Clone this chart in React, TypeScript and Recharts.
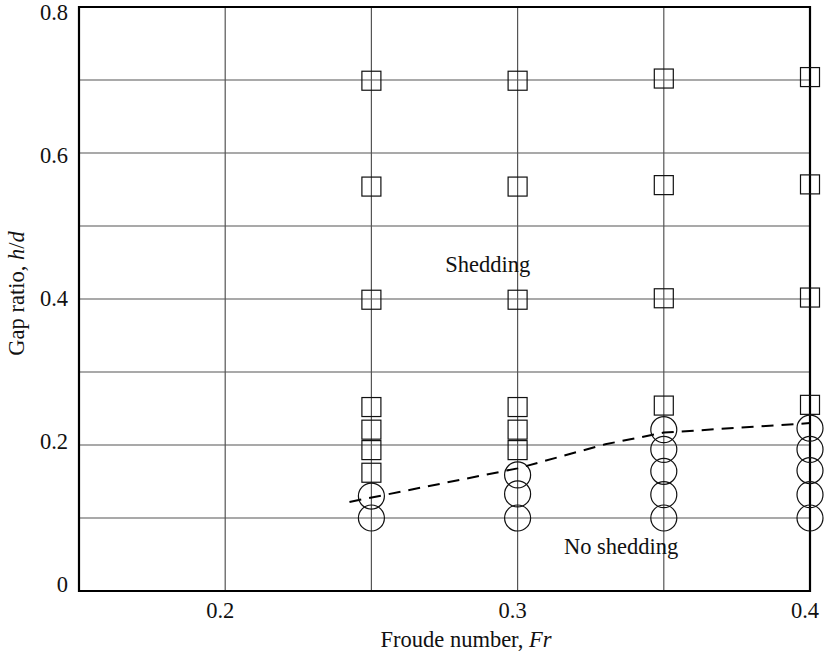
import React from 'react';
import {
  ScatterChart,
  Scatter,
  XAxis,
  YAxis,
  CartesianGrid,
  ReferenceArea,
  ReferenceDot,
} from 'recharts';

// ---- Axis ticks ----
const xTicks = [0.15, 0.2, 0.25, 0.3, 0.35, 0.4];
const xLabeledTicks = [0.2, 0.3, 0.4];
const yTicks = [0, 0.1, 0.2, 0.3, 0.4, 0.5, 0.6, 0.7, 0.8];
const yLabeledTicks = [0, 0.2, 0.4, 0.6, 0.8];

// ---- Shedding (squares) ----
const sheddingPoints = [
  { fr: 0.25, h: 0.699 },
  { fr: 0.25, h: 0.554 },
  { fr: 0.25, h: 0.399 },
  { fr: 0.25, h: 0.252 },
  { fr: 0.25, h: 0.221 },
  { fr: 0.25, h: 0.193 },
  { fr: 0.25, h: 0.162 },
  { fr: 0.3, h: 0.699 },
  { fr: 0.3, h: 0.554 },
  { fr: 0.3, h: 0.399 },
  { fr: 0.3, h: 0.252 },
  { fr: 0.3, h: 0.221 },
  { fr: 0.3, h: 0.193 },
  { fr: 0.35, h: 0.702 },
  { fr: 0.35, h: 0.556 },
  { fr: 0.35, h: 0.401 },
  { fr: 0.35, h: 0.254 },
  { fr: 0.4, h: 0.704 },
  { fr: 0.4, h: 0.557 },
  { fr: 0.4, h: 0.402 },
  { fr: 0.4, h: 0.255 },
];

// ---- No shedding (circles) ----
const noSheddingPoints = [
  { fr: 0.25, h: 0.13 },
  { fr: 0.25, h: 0.1 },
  { fr: 0.3, h: 0.159 },
  { fr: 0.3, h: 0.133 },
  { fr: 0.3, h: 0.1 },
  { fr: 0.35, h: 0.221 },
  { fr: 0.35, h: 0.194 },
  { fr: 0.35, h: 0.164 },
  { fr: 0.35, h: 0.132 },
  { fr: 0.35, h: 0.1 },
  { fr: 0.4, h: 0.223 },
  { fr: 0.4, h: 0.194 },
  { fr: 0.4, h: 0.165 },
  { fr: 0.4, h: 0.132 },
  { fr: 0.4, h: 0.1 },
];

// ---- Boundary (dashed line) ----
const boundaryPoints = [
  { fr: 0.2425, h: 0.122 },
  { fr: 0.3, h: 0.168 },
  { fr: 0.33, h: 0.201 },
  { fr: 0.35, h: 0.217 },
  { fr: 0.4, h: 0.23 },
];

// ---- Annotations ----
const annotations = [
  { text: 'Shedding', fr: 0.2898, h: 0.4475 },
  { text: 'No shedding', fr: 0.3354, h: 0.0607 },
];

const FONT = '"Liberation Serif", "Times New Roman", serif';
const FS = 22.5;

const SquareShape = (p: any) => (
  <rect
    x={p.cx - 9.5}
    y={p.cy - 9.5}
    width={19}
    height={19}
    fill="none"
    stroke="#111"
    strokeWidth={1.2}
  />
);

const CircleShape = (p: any) => (
  <circle cx={p.cx} cy={p.cy} r={13} fill="none" stroke="#111" strokeWidth={1.2} />
);

const NoShape = () => <g />;

const XTick = (props: any) => {
  const { x, y, payload } = props;
  if (!xLabeledTicks.some((v) => Math.abs(v - payload.value) < 1e-9)) return <g />;
  return (
    <text
      x={x - 5}
      y={y + 26.5}
      textAnchor="middle"
      fontFamily={FONT}
      fontSize={FS}
      fill="#111"
    >
      {String(payload.value)}
    </text>
  );
};

const YTick = (props: any) => {
  const { x, y, payload } = props;
  if (!yLabeledTicks.some((v) => Math.abs(v - payload.value) < 1e-9)) return <g />;
  const v = payload.value;
  const nudge = -6.3 + (11.5 * v) / 0.8;
  return (
    <text
      x={x - 11}
      y={y + nudge}
      textAnchor="end"
      dominantBaseline="central"
      fontFamily={FONT}
      fontSize={FS}
      fill="#111"
    >
      {v === 0 ? '0' : String(v)}
    </text>
  );
};

export default function App() {
  return (
    <div style={{ position: 'absolute', left: 0, top: 0, background: '#fff' }}>
      <ScatterChart
        width={824}
        height={654}
        margin={{ top: 7, right: 14, bottom: 0, left: 0 }}
      >
        <CartesianGrid stroke="#555" strokeWidth={1.2} />
        <XAxis
          type="number"
          dataKey="fr"
          domain={[0.15, 0.4]}
          ticks={xTicks}
          height={63}
          tickSize={0}
          tickMargin={0}
          axisLine={false}
          tickLine={false}
          tick={<XTick />}
          interval={0}
          label={{
            content: () => (
              <text
                x={466}
                y={647}
                textAnchor="middle"
                fontFamily={FONT}
                fontSize={FS}
                fill="#111"
              >
                Froude number, <tspan fontStyle="italic">Fr</tspan>
              </text>
            ),
          }}
        />
        <YAxis
          type="number"
          dataKey="h"
          domain={[0, 0.8]}
          ticks={yTicks}
          width={79}
          tickSize={0}
          tickMargin={0}
          axisLine={false}
          tickLine={false}
          tick={<YTick />}
          interval={0}
          label={{
            content: () => (
              <text
                x={16}
                y={293.5}
                transform="rotate(-90 16 293.5)"
                textAnchor="middle"
                dominantBaseline="central"
                fontFamily={FONT}
                fontSize={FS}
                fill="#111"
              >
                Gap ratio, <tspan fontStyle="italic">h</tspan>/<tspan fontStyle="italic">d</tspan>
              </text>
            ),
          }}
        />
        <Scatter
          data={boundaryPoints}
          isAnimationActive={false}
          shape={NoShape}
          line={{ stroke: '#000', strokeWidth: 2, strokeDasharray: '12 8' }}
          lineType="joint"
        />
        <Scatter
          data={sheddingPoints}
          isAnimationActive={false}
          shape={SquareShape}
        />
        <Scatter
          data={noSheddingPoints}
          isAnimationActive={false}
          shape={CircleShape}
        />
        {annotations.map((a) => (
          <ReferenceDot
            key={a.text}
            x={a.fr}
            y={a.h}
            r={0}
            fill="none"
            stroke="none"
            label={{
              content: (lp: any) => {
                const vb = lp.viewBox || {};
                const cx = (vb.x ?? 0) + (vb.width ?? 0) / 2;
                const cy = (vb.y ?? 0) + (vb.height ?? 0) / 2;
                return (
                  <text
                    x={cx}
                    y={cy}
                    textAnchor="middle"
                    dominantBaseline="central"
                    fontFamily={FONT}
                    fontSize={FS}
                    fill="#111"
                  >
                    {a.text}
                  </text>
                );
              },
            }}
          />
        ))}
        <ReferenceArea
          x1={0.15}
          x2={0.4}
          y1={0}
          y2={0.8}
          fill="none"
          fillOpacity={0}
          stroke="#000"
          strokeWidth={2.2}
          ifOverflow="visible"
        />
      </ScatterChart>
    </div>
  );
}
